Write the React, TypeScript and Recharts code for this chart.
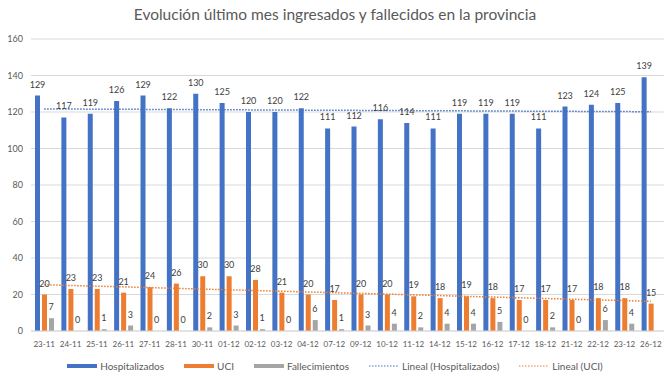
import React from 'react';
import { ComposedChart, Bar, Line, XAxis, YAxis, CartesianGrid, LabelList } from 'recharts';

const categories = ['23-11','24-11','25-11','26-11','27-11','28-11','30-11','01-12','02-12','03-12','04-12','07-12','09-12','10-12','11-12','14-12','15-12','16-12','17-12','18-12','21-12','22-12','23-12','26-12'];
const hospitalizados = [129,117,119,126,129,122,130,125,120,120,122,111,112,116,114,111,119,119,119,111,123,124,125,139];
const uci = [20,23,23,21,24,26,30,30,28,21,20,17,20,20,19,18,19,18,17,17,17,18,18,15];
const fallecimientos: (number | null)[] = [7,0,1,3,0,0,2,3,1,0,6,1,3,4,2,4,4,5,0,2,0,6,4,null];
const yTicks = [0,20,40,60,80,100,120,140,160];

function linearFit(vals: number[]) {
  const n = vals.length;
  const xs = vals.map((_, i) => i + 1);
  const mx = xs.reduce((a, b) => a + b, 0) / n;
  const my = vals.reduce((a, b) => a + b, 0) / n;
  let num = 0, den = 0;
  xs.forEach((x, i) => { num += (x - mx) * (vals[i] - my); den += (x - mx) * (x - mx); });
  const slope = num / den;
  const intercept = my - slope * mx;
  return xs.map((x) => intercept + slope * x);
}

const trendH = linearFit(hospitalizados);
const trendU = linearFit(uci);

const data = categories.map((c, i) => ({
  cat: c,
  hosp: hospitalizados[i],
  uci: uci[i],
  fall: fallecimientos[i],
  tH: trendH[i],
  tU: trendU[i],
}));

const BLUE = '#4472C4';
const ORANGE = '#ED7D31';
const GRAY = '#A5A5A5';
const TEXT = '#595959';
const FONT = 'Lato, "Noto Sans", sans-serif';

const BAR_SIZE = 5;
const BAR_GAP = 2;
const LABEL_OFFSET = 8;

const labelStyle = { fontSize: 9, fill: '#404040', fontFamily: FONT };

const renderBarLabel = (props: any) => {
  const { x, y, width, value } = props;
  if (value === null || value === undefined) return null;
  return (
    <text x={Number(x) + Number(width) / 2} y={Number(y) - LABEL_OFFSET} textAnchor="middle" style={labelStyle}>
      {value}
    </text>
  );
};

// labels for the third bar in each group, drawn from an invisible line so zero values get labels too
const renderFallLabel = (props: any) => {
  const { x, y, value } = props;
  if (value === null || value === undefined) return null;
  return (
    <text x={Number(x) + BAR_SIZE + BAR_GAP} y={Number(y) - LABEL_OFFSET} textAnchor="middle" style={labelStyle}>
      {value}
    </text>
  );
};

const legendItems = [
  { label: 'Hospitalizados', color: BLUE, dotted: false },
  { label: 'UCI', color: ORANGE, dotted: false },
  { label: 'Fallecimientos', color: GRAY, dotted: false },
  { label: 'Lineal (Hospitalizados)', color: BLUE, dotted: true },
  { label: 'Lineal (UCI)', color: ORANGE, dotted: true },
];

export default function App() {
  return (
    <div style={{ position: 'absolute', left: 0, top: 0, width: 670, height: 377, background: '#fff', fontFamily: FONT }}>
      <div style={{ position: 'absolute', top: 5, left: 0, width: 670, textAlign: 'center', fontSize: 15.5, color: TEXT }}>
        Evolución último mes ingresados y fallecidos en la provincia
      </div>
      <ComposedChart
        width={670}
        height={377}
        data={data}
        margin={{ top: 39, right: 6, left: 0, bottom: 22 }}
        barSize={BAR_SIZE}
        barGap={BAR_GAP}
      >
        <CartesianGrid vertical={false} stroke="#D9D9D9" />
        <XAxis
          dataKey="cat"
          axisLine={{ stroke: '#D9D9D9' }}
          tickLine={false}
          height={24}
          interval={0}
          tickMargin={4}
          tick={{ fontSize: 8, fill: TEXT, fontFamily: FONT }}
        />
        <YAxis
          width={31}
          domain={[0, 160]}
          ticks={yTicks}
          axisLine={false}
          tickLine={false}
          tick={{ fontSize: 9, fill: TEXT, fontFamily: FONT }}
        />
        <Bar dataKey="hosp" fill={BLUE} isAnimationActive={false}>
          <LabelList dataKey="hosp" content={renderBarLabel} />
        </Bar>
        <Bar dataKey="uci" fill={ORANGE} isAnimationActive={false}>
          <LabelList dataKey="uci" content={renderBarLabel} />
        </Bar>
        <Bar dataKey="fall" fill={GRAY} isAnimationActive={false} />
        <Line dataKey="fall" type="linear" stroke="none" dot={false} activeDot={false} legendType="none" isAnimationActive={false}>
          <LabelList dataKey="fall" content={renderFallLabel} />
        </Line>
        <Line dataKey="tH" type="linear" stroke={BLUE} strokeWidth={1.5} strokeDasharray="1.5 1.5" dot={false} activeDot={false} isAnimationActive={false} />
        <Line dataKey="tU" type="linear" stroke={ORANGE} strokeWidth={1.5} strokeDasharray="1.5 1.5" dot={false} activeDot={false} isAnimationActive={false} />
      </ComposedChart>
      <div style={{ position: 'absolute', top: 360, left: 0, width: 670, display: 'flex', justifyContent: 'center', alignItems: 'center', fontSize: 10, color: TEXT }}>
        {legendItems.map((it) => (
          <div key={it.label} style={{ display: 'flex', alignItems: 'center', margin: '0 10px' }}>
            <svg width={30} height={6} style={{ marginRight: 3 }}>
              {it.dotted ? (
                <line x1={0} y1={3} x2={30} y2={3} stroke={it.color} strokeWidth={1.2} strokeDasharray="1.5 1.5" />
              ) : (
                <rect x={0} y={1} width={30} height={4} fill={it.color} />
              )}
            </svg>
            <span>{it.label}</span>
          </div>
        ))}
      </div>
    </div>
  );
}
